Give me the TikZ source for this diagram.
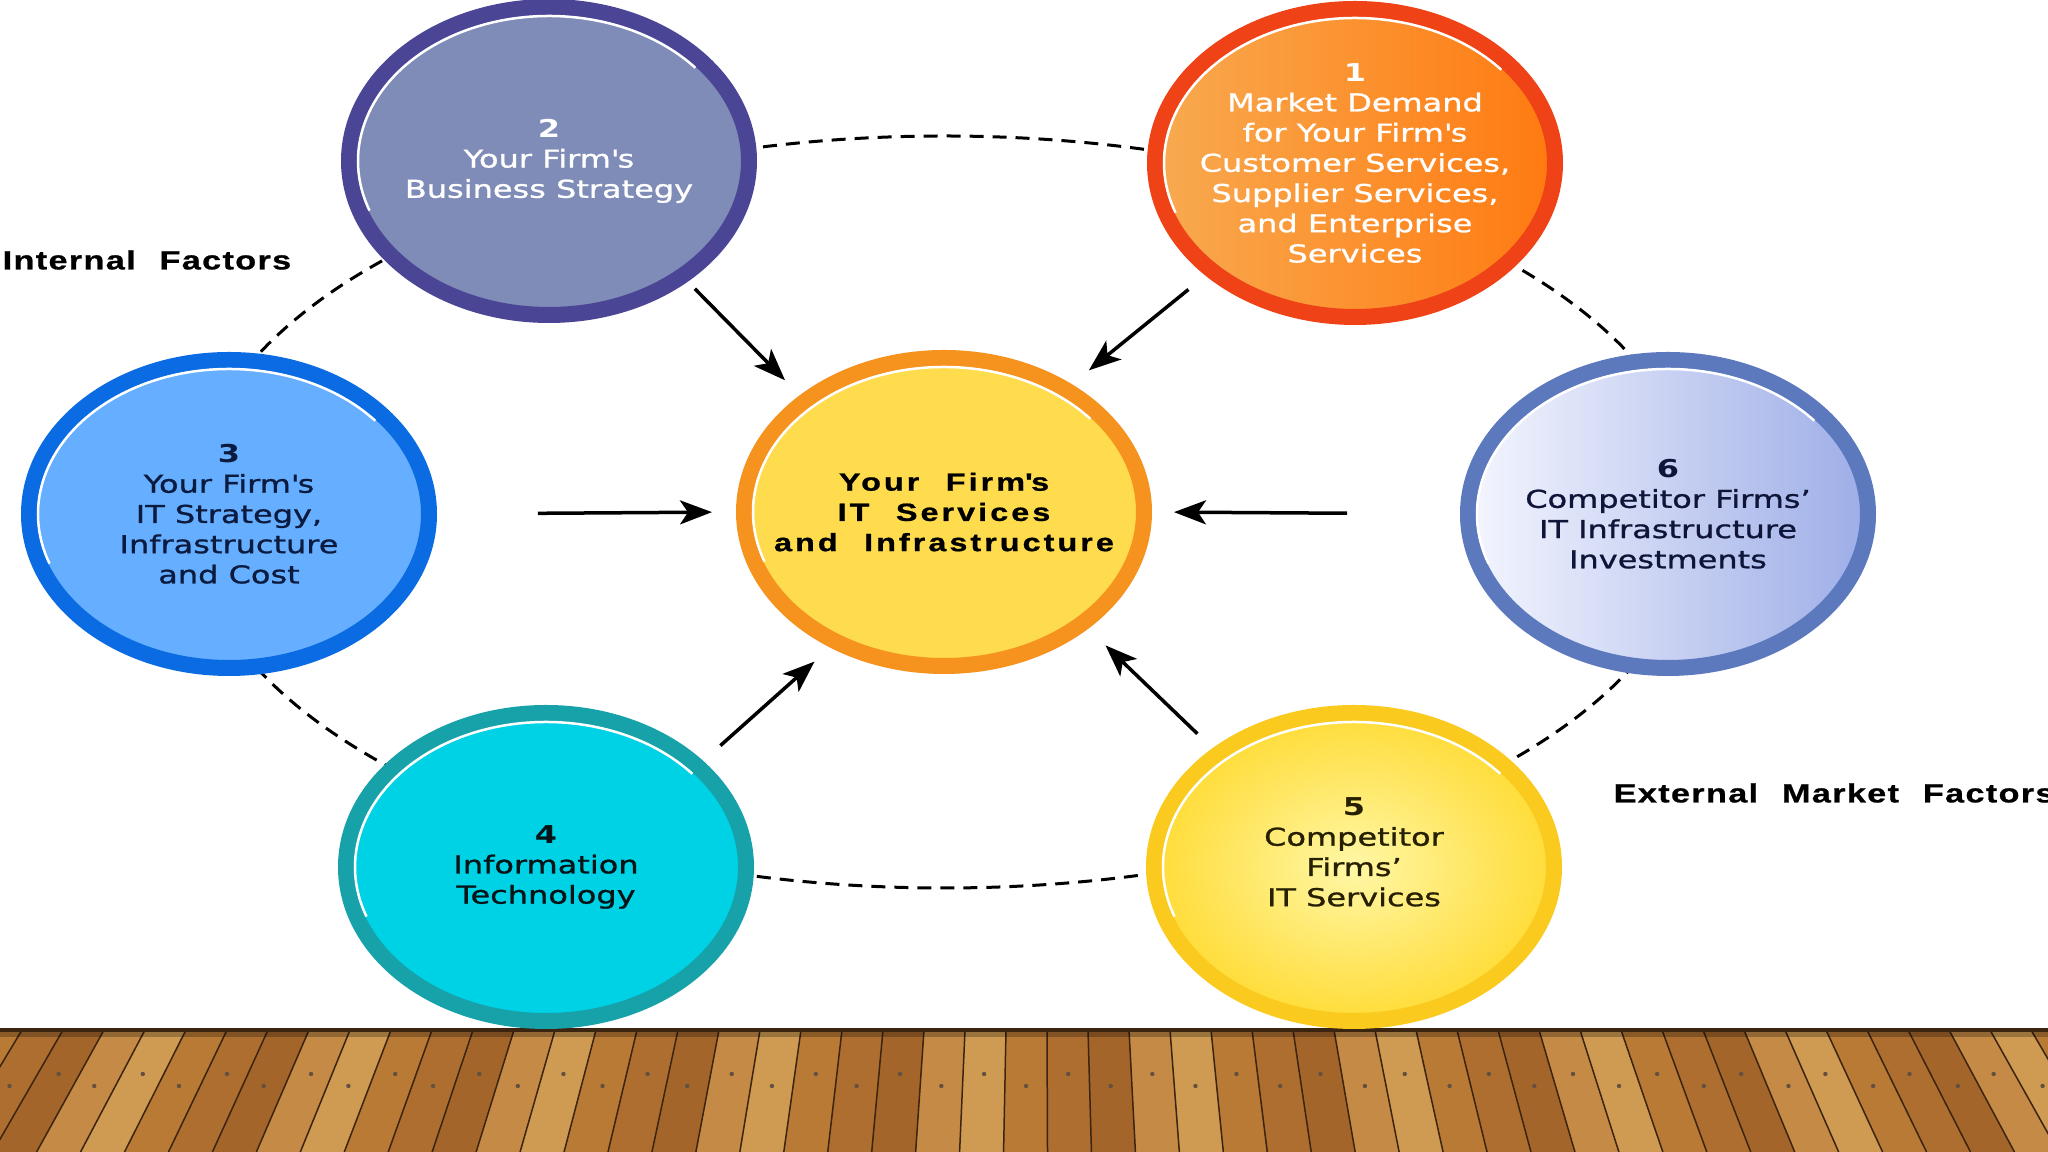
\documentclass[tikz,border=0pt]{standalone}
\usepackage{fontspec}
\setmainfont[FakeStretch=1.3,UprightFeatures={FakeBold=1}]{DejaVu Sans}
\newfontfamily\widebold[FakeStretch=1.3,LetterSpace=12,WordSpace=2.2,BoldFeatures={FakeBold=0.8}]{Liberation Sans}
\newfontfamily\labelfont[FakeStretch=1.3,LetterSpace=5,WordSpace=2.2,BoldFeatures={FakeBold=0.8}]{Liberation Sans}
\usepackage{tikz}
\usetikzlibrary{shapes.geometric, arrows.meta, positioning}

\definecolor{onering}{HTML}{EF4216}
\definecolor{oneleft}{HTML}{F8AA50}
\definecolor{oneright}{HTML}{FF7A10}
\definecolor{tworing}{HTML}{4B4595}
\definecolor{twofill}{HTML}{808CB8}
\definecolor{threering}{HTML}{0A6BE2}
\definecolor{threefill}{HTML}{66AEFF}
\definecolor{threetext}{HTML}{0B1B3F}
\definecolor{fourring}{HTML}{17A2AA}
\definecolor{fourfill}{HTML}{00D2E6}
\definecolor{fourtext}{HTML}{061418}
\definecolor{fivering}{HTML}{FACA1E}
\definecolor{fiveinner}{HTML}{FFF7A6}
\definecolor{fiveouter}{HTML}{FFDC38}
\definecolor{fivetext}{HTML}{262000}
\definecolor{sixring}{HTML}{5C79BE}
\definecolor{sixleft}{HTML}{F4F6FE}
\definecolor{sixright}{HTML}{9DADE7}
\definecolor{sixtext}{HTML}{0E1538}
\definecolor{hubring}{HTML}{F6921E}
\definecolor{hubfill}{HTML}{FFDC4E}
\definecolor{wood0}{HTML}{B97A35}
\definecolor{wood1}{HTML}{C58A45}
\definecolor{wood2}{HTML}{AD6E30}
\definecolor{wood3}{HTML}{CF9A52}
\definecolor{wood4}{HTML}{A4652A}
\definecolor{seam}{HTML}{3B2410}

\begin{document}
\begin{tikzpicture}[
  bubble/.style={ellipse, draw, line width=0.16cm, minimum width=4cm, minimum height=3.08cm,
    inner xsep=-0.7cm, inner ysep=-0.4cm, align=center, font=\fontsize{7}{8.6}\selectfont},
  hubtext/.style={font=\widebold\bfseries\fontsize{7.1}{8.6}\selectfont},
  factor/.style={anchor=west, inner sep=0pt, font=\labelfont\bfseries\fontsize{7.5}{8.6}\selectfont},
  ring/.style={line width=0.03cm, dash pattern=on 0.14cm off 0.09cm},
  gloss/.style={white, line width=0.025cm},
  flow/.style={->, line width=0.035cm},
  >={Stealth[length=0.32cm, width=0.24cm, inset=0.08cm]}
]
\useasboundingbox (0,0) rectangle (20.48,11.52);
\fill[white] (0,0) rectangle (20.48,11.52);

% wooden floor
\fill[wood0] (0,0) rectangle (20.48,1.22);
\foreach \i in {0,...,52} {
  \pgfmathsetmacro{\ta}{\i*0.41-0.6}
  \pgfmathsetmacro{\tb}{\ta+0.41}
  \pgfmathsetmacro{\ba}{\ta+(\ta-10.4)*0.072}
  \pgfmathsetmacro{\bb}{\tb+(\tb-10.4)*0.072}
  \pgfmathtruncatemacro{\k}{mod(\i*7+3,5)}
  \pgfmathsetmacro{\ny}{0.66+0.12*mod(\i,2)}
  \pgfmathsetmacro{\nx}{(\ta+\tb)/2+((\ta+\tb)/2-10.4)*0.072*(1.22-\ny)/1.22}
  \fill[wood\k] (\ta,1.22) -- (\tb,1.22) -- (\bb,0) -- (\ba,0) -- cycle;
  \draw[seam, line width=0.015cm] (\ta,1.22) -- (\ba,0);
  \fill[seam!80] (\nx,\ny) circle (0.022);
}
\fill[black, opacity=0.25] (0,1.15) rectangle (20.48,1.22);
\draw[seam, line width=0.035cm] (0,1.22) -- (20.48,1.22);

% dashed ring
\coordinate (mid) at (9.44,6.40);
\draw[ring] (mid) ellipse (7.55 and 3.76);

% factors
\node[bubble, draw=onering, left color=oneleft, right color=oneright, text=white] (n1) at (13.55,9.89)
  {\textbf{1}\\Market Demand\\for Your Firm\textquotesingle s\\Customer Services,\\Supplier Services,\\and Enterprise\\Services};
\node[bubble, draw=tworing, fill=twofill, text=white] (n2) at (5.49,9.91)
  {\textbf{2}\\Your Firm\textquotesingle s\\Business Strategy};
\node[bubble, draw=threering, fill=threefill, text=threetext] (n3) at (2.29,6.38)
  {\textbf{3}\\Your Firm\textquotesingle s\\IT Strategy,\\Infrastructure\\and Cost};
\node[bubble, draw=fourring, fill=fourfill, text=fourtext] (n4) at (5.46,2.85)
  {\textbf{4}\\Information\\Technology};
\node[bubble, draw=fivering, inner color=fiveinner, outer color=fiveouter, text=fivetext] (n5) at (13.54,2.85)
  {\textbf{5}\\Competitor\\Firms’\\IT Services\\\mbox{}};
\node[bubble, draw=sixring, left color=sixleft, right color=sixright, text=sixtext] (n6) at (16.68,6.38)
  {\textbf{6}\\Competitor Firms’\\IT Infrastructure\\Investments};
\node[bubble, draw=hubring, fill=hubfill, hubtext] (hub) at (mid)
  {Your Firm\textquotesingle s\\IT Services\\and Infrastructure};

% highlights
\foreach \n in {n1,n2,n3,n4,n5,n6,hub}
  \draw[gloss] (\n.center) ++(40:1.91 and 1.45) arc[start angle=40, end angle=200, x radius=1.91, y radius=1.45];

% arrows into the hub
\foreach \src/\a/\b/\s/\e in {n2/-41/141/0.10cm/0.21cm, n1/-143/45/0.22cm/0.22cm,
    n3/0/180/1.01cm/0.24cm, n6/180/0/1.13cm/0.22cm, n4/34/-130/0.23cm/0.21cm, n5/140/-39/0.21cm/0.24cm}
  \draw[flow, shorten <=\s, shorten >=\e] (\src.\a) -- (hub.\b);

\node[factor] (intl) at (0.02,8.92) {Internal Factors};
\node[factor] (extl) at (16.13,3.59) {External Market Factors};
\end{tikzpicture}
\end{document}
